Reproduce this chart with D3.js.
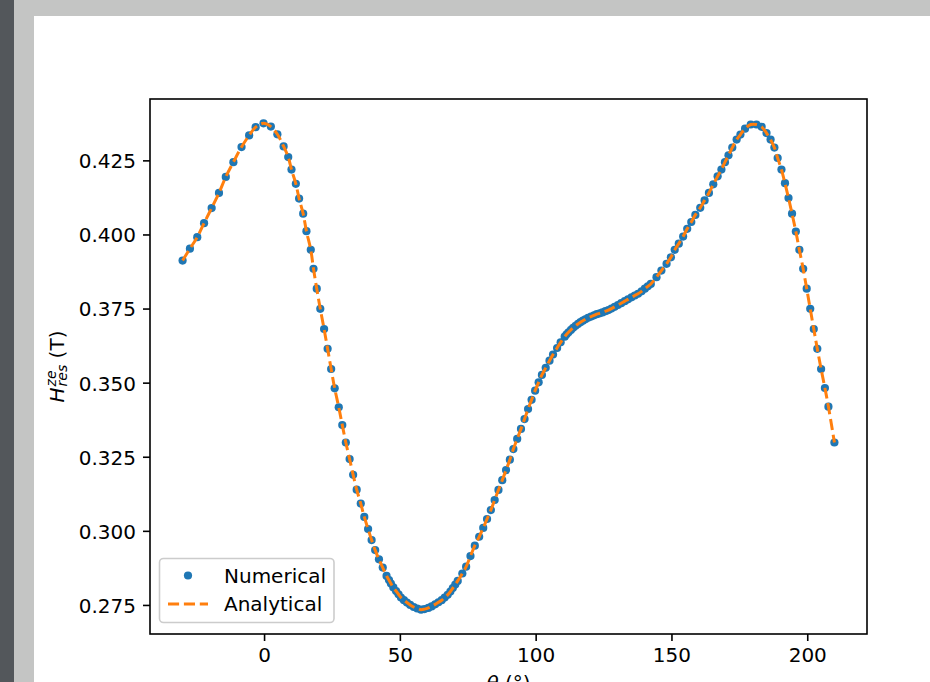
<!DOCTYPE html>
<html><head><meta charset="utf-8">
<script src="https://cdn.jsdelivr.net/npm/d3@7"></script>
<style>
html,body{margin:0;padding:0;background:#c4c5c4;overflow:hidden}
svg{display:block}
</style></head><body>
<svg id="chart" width="930" height="682"></svg>
<script>
// field angle theta (deg) of each numerical point
const theta = [-30, -27.3, -24.6, -22.1, -19.3, -16.6, -14.1, -11.3, -8.3, -5.5, -3.1, -0.2, 2.5, 4.9, 7.2, 8.9, 10.1, 11.7, 12.9, 14.4, 15.6, 17.2, 18.2, 19.4, 20.7, 22.1, 23.4, 24.7, 26.0, 27.5, 28.8, 30.1, 31.5, 32.8, 34.1, 35.6, 36.9, 38.3, 39.6, 40.9, 42.3, 43.7,
  45.1, 46.0, 46.7, 47.6, 48.6, 49.5, 50.4, 51.5, 52.6, 53.8, 55.1, 56.4, 57.8, 59.1, 60.5, 61.7, 63.0, 64.2, 65.4, 66.5, 67.6, 68.6, 69.5, 70.4, 71.3,
  73.0, 74.4, 76.0, 77.6, 79.2, 80.7, 82.1, 83.5, 84.9, 86.3, 87.7, 89.1, 90.5, 91.8, 93.2, 94.6, 95.9, 97.2, 98.5, 99.8, 101.1, 102.3, 103.7, 105.1, 106.4, 107.9, 109.2,
  110.7, 111.4, 112.1, 113.0, 113.8, 114.7, 115.6, 116.5, 117.4, 118.3, 119.3, 120.4, 121.5, 122.5, 123.6, 124.6, 125.7, 126.8, 127.9, 129.1, 130.3, 131.5, 132.8, 134.0, 135.3, 136.5, 137.7, 139.0, 140.2, 141.3, 142.4,
  144.5, 146.3, 148.2, 149.8, 151.2, 152.7, 154.3, 155.8, 157.3, 158.8, 160.6, 162.2, 163.8, 165.4, 167.0, 168.4, 169.7, 171.0, 172.4, 174.0, 175.4, 177.1, 179.2, 181.3, 183.2, 185.0, 186.5, 187.9, 189.1, 190.5, 191.8, 193.1, 194.4, 195.8, 197.1, 198.5, 199.8, 201.1, 202.4, 203.7, 205.1, 206.5, 207.8, 210];
// numerical H_res^ze (T)
const numerical = [0.3912, 0.3952, 0.3991, 0.4038, 0.4089, 0.4140, 0.4194, 0.4244, 0.4295, 0.4334, 0.4362, 0.4375, 0.4364, 0.4338, 0.4297, 0.4261, 0.4219, 0.4171, 0.4121, 0.4070, 0.4011, 0.3948, 0.3884, 0.3817, 0.3749, 0.3681, 0.3614, 0.3546, 0.3481, 0.3417, 0.3357, 0.3298, 0.3242, 0.3189, 0.3139, 0.3092, 0.3047, 0.3006, 0.2969, 0.2935, 0.2904, 0.2876,
  0.2848, 0.2834, 0.2822, 0.2809, 0.2797, 0.2786, 0.2775, 0.2766, 0.2758, 0.2750, 0.2743, 0.2738, 0.2734, 0.2736, 0.2740, 0.2745, 0.2752, 0.2759, 0.2766, 0.2775, 0.2784, 0.2795, 0.2807, 0.2819, 0.2831,
  0.2856, 0.2879, 0.2915, 0.2950, 0.2980, 0.3010, 0.3040, 0.3070, 0.3104, 0.3138, 0.3171, 0.3205, 0.3240, 0.3276, 0.3310, 0.3344, 0.3377, 0.3411, 0.3442, 0.3473, 0.3501, 0.3526, 0.3550, 0.3574, 0.3595, 0.3617, 0.3636,
  0.3655, 0.3663, 0.3670, 0.3678, 0.3685, 0.3692, 0.3698, 0.3704, 0.3709, 0.3714, 0.3719, 0.3723, 0.3727, 0.3731, 0.3734, 0.3737, 0.3741, 0.3745, 0.3750, 0.3756, 0.3762, 0.3768, 0.3775, 0.3781, 0.3788, 0.3794, 0.3800, 0.3808, 0.3817, 0.3825, 0.3833,
  0.3856, 0.3878, 0.3901, 0.3923, 0.3948, 0.3969, 0.3993, 0.4019, 0.4042, 0.4066, 0.4090, 0.4115, 0.4140, 0.4169, 0.4196, 0.4219, 0.4244, 0.4267, 0.4293, 0.4320, 0.4337, 0.4357, 0.4371, 0.4371, 0.4363, 0.4342, 0.4320, 0.4293, 0.4258, 0.4219, 0.4173, 0.4123, 0.4070, 0.4010, 0.3948, 0.3884, 0.3817, 0.3749, 0.3681, 0.3614, 0.3546, 0.3482, 0.3419, 0.3298];
// analytical curve coincides with the numerical points
const analyticalTheta = theta;
const analytical = numerical;

const xTicks = [0, 50, 100, 150, 200];
const yTicks = [0.275, 0.300, 0.325, 0.350, 0.375, 0.400, 0.425];
const seriesNames = ["Numerical", "Analytical"];
const colors = ["#1f77b4", "#ff7f0e"];

const svg = d3.select("#chart");
const FONT = "'DejaVu Sans', sans-serif";

// window chrome
svg.append("rect").attr("x", 0).attr("y", 0).attr("width", 930).attr("height", 682).attr("fill", "#c4c5c4");
svg.append("rect").attr("x", 0).attr("y", 0).attr("width", 14).attr("height", 682).attr("fill", "#53575b");
svg.append("rect").attr("x", 34).attr("y", 16).attr("width", 896).attr("height", 666).attr("fill", "#ffffff");

const L = 150, R = 867, T = 99, B = 634;
const xPad = (d3.max(theta) - d3.min(theta)) * 0.05;
const x = d3.scaleLinear().domain([d3.min(theta) - xPad, d3.max(theta) + xPad]).range([L, R]);
const yPad = (d3.max(numerical) - d3.min(numerical)) * 0.05;
const y = d3.scaleLinear().domain([d3.min(numerical) - yPad, d3.max(numerical) + yPad]).range([B, T]);

// axes
const gx = svg.append("g").attr("transform", `translate(0,${B})`)
  .call(d3.axisBottom(x).tickValues(xTicks).tickFormat(d3.format("d")).tickSize(7).tickPadding(7));
const gy = svg.append("g").attr("transform", `translate(${L},0)`)
  .call(d3.axisLeft(y).tickValues(yTicks).tickFormat(d3.format(".3f")).tickSize(7).tickPadding(7));
[gx, gy].forEach(g => {
  g.select(".domain").remove();
  g.selectAll(".tick line").attr("stroke", "#000").attr("stroke-width", 1.6);
  g.selectAll(".tick text").attr("fill", "#000").style("font-family", FONT).style("font-size", "20px");
});
gy.selectAll(".tick text").attr("dy", "0.37em");

// data: numerical dots
const pts = theta.map((t, i) => [t, numerical[i]]);
svg.append("g").selectAll("circle").data(pts).join("circle")
  .attr("cx", d => x(d[0])).attr("cy", d => y(d[1])).attr("r", 4.1).attr("fill", colors[0]);

// analytical dashed line
const lpts = analyticalTheta.map((t, i) => [t, analytical[i]]);
svg.append("path").datum(lpts)
  .attr("d", d3.line().x(d => x(d[0])).y(d => y(d[1])).curve(d3.curveCatmullRom))
  .attr("fill", "none").attr("stroke", colors[1]).attr("stroke-width", 3)
  .attr("stroke-dasharray", "11.1,4.8");

// frame
svg.append("rect").attr("x", L).attr("y", T).attr("width", R - L).attr("height", B - T)
  .attr("fill", "none").attr("stroke", "#000").attr("stroke-width", 1.6);

// x label
const xl = svg.append("text").attr("x", (L + R) / 2).attr("y", 690).attr("text-anchor", "middle")
  .style("font-family", FONT).style("font-size", "20px").attr("fill", "#000");
xl.append("tspan").style("font-style", "italic").text("θ");
xl.append("tspan").text(" (°)");

// y label (mathtext-like H^{ze}_{res} (T))
const yl = svg.append("g").attr("transform", `translate(63.5,${(T + B) / 2}) rotate(-90)`);
const inner = yl.append("g");
const tH = inner.append("text").attr("x", 0).attr("y", 0).style("font-family", FONT).style("font-size", "20px").style("font-style", "italic").text("H");
const wH = tH.node().getComputedTextLength();
const tSup = inner.append("text").attr("x", wH + 1).attr("y", -8).style("font-family", FONT).style("font-size", "14px").style("font-style", "italic").text("ze");
const tSub = inner.append("text").attr("x", wH + 1).attr("y", 3).style("font-family", FONT).style("font-size", "14px").style("font-style", "italic").text("res");
const wS = Math.max(tSup.node().getComputedTextLength(), tSub.node().getComputedTextLength());
const tT = inner.append("text").attr("x", wH + 1 + wS).attr("y", 0).style("font-family", FONT).style("font-size", "20px").text("\u00a0(T)");
const total = wH + 1 + wS + tT.node().getComputedTextLength();
inner.attr("transform", `translate(${-total / 2},0)`);

// legend
const lg = svg.append("g");
lg.append("rect").attr("x", 159.5).attr("y", 558.5).attr("width", 174.5).attr("height", 64).attr("rx", 4)
  .attr("fill", "#fff").attr("fill-opacity", 0.8).attr("stroke", "#cccccc").attr("stroke-width", 1.6);
lg.append("circle").attr("cx", 188).attr("cy", 575.5).attr("r", 4.1).attr("fill", colors[0]);
lg.append("line").attr("x1", 168).attr("x2", 208).attr("y1", 604).attr("y2", 604)
  .attr("stroke", colors[1]).attr("stroke-width", 3).attr("stroke-dasharray", "11.1,4.8");
lg.selectAll("text.lab").data(seriesNames).join("text").attr("class", "lab")
  .attr("x", 224).attr("y", (d, i) => 583 + i * 28)
  .style("font-family", FONT).style("font-size", "20px").attr("fill", "#000").text(d => d);
</script>
</body></html>
